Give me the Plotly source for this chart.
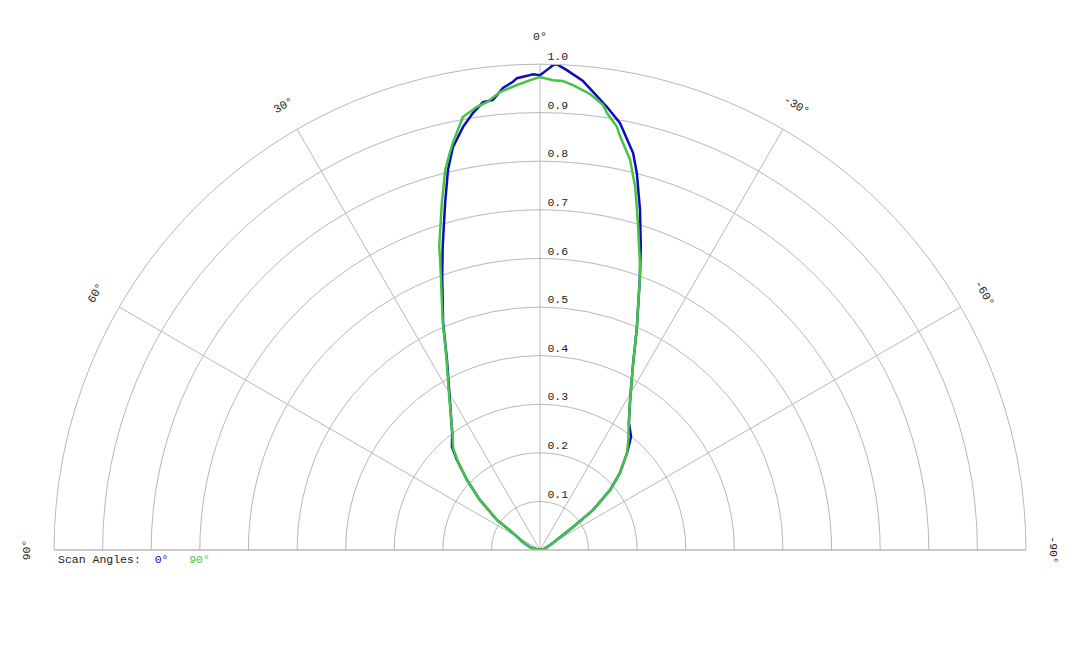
import math
import plotly.graph_objects as go

# ---- data ----
series_names = ["0°", "90°"]
series_colors = ["#0c0cbc", "#44c444"]

theta_0 = [90, 75, 65, 57.8, 55.1, 50.2, 46.2, 42.7, 40.5, 36.9, 31.0, 26.1, 23.1,
           19.7, 17.8, 15.3, 13.6, 12.2, 10.3, 8.7, 7.25, 5.96, 4.58, 3.3, 2.79,
           1.57, 0.84, 0, -0.84, -1.54, -2.0, -3.2, -5.24, -6.6, -8.6, -10.6,
           -13.2, -14.4, -16.4, -18.4, -20.1, -23.5, -26.9, -31.0, -35.0, -38.8,
           -41.9, -46.1, -49.4, -53.0, -55.1, -61.7, -75, -90]
r_0 = [0.0, 0.02, 0.04, 0.066, 0.108, 0.161, 0.208, 0.252, 0.279, 0.301, 0.360,
       0.435, 0.508, 0.597, 0.655, 0.740, 0.805, 0.848, 0.885, 0.910, 0.929,
       0.931, 0.954, 0.965, 0.972, 0.976, 0.979, 0.977, 0.988, 0.998, 1.0,
       0.989, 0.969, 0.949, 0.922, 0.894, 0.839, 0.801, 0.729, 0.657, 0.598,
       0.500, 0.422, 0.360, 0.319, 0.299, 0.268, 0.228, 0.190, 0.137, 0.083,
       0.030, 0.01, 0.0]

theta_90 = [90, 75, 65, 57.8, 55.1, 50.2, 46.2, 42.7, 40.5, 36.9, 31.0, 26.1, 23.1,
            19.0, 18.4, 15.8, 14.0, 12.8, 12.1, 11.3, 10.1, 8.1, 6.75, 5.0, 2.83,
            1.2, 0, -1.6, -2.8, -4.06, -6.26, -8.06, -8.7, -10.3, -11.0, -13.0,
            -14.7, -16.5, -18.1, -19.0, -20.1, -23.5, -26.9, -31.0, -35.0, -38.8,
            -41.9, -46.1, -49.4, -53.0, -55.1, -61.7, -75, -90]
r_90 = [0.0, 0.02, 0.04, 0.066, 0.108, 0.161, 0.208, 0.250, 0.275, 0.300, 0.362,
        0.437, 0.510, 0.631, 0.657, 0.742, 0.806, 0.838, 0.856, 0.875, 0.905,
        0.921, 0.928, 0.946, 0.958, 0.967, 0.973, 0.967, 0.966, 0.959, 0.944,
        0.925, 0.910, 0.885, 0.866, 0.824, 0.772, 0.708, 0.656, 0.631, 0.598,
        0.500, 0.422, 0.360, 0.318, 0.290, 0.268, 0.228, 0.190, 0.137, 0.083,
        0.030, 0.01, 0.0]

angle_ticks = [90, 60, 30, 0, -30, -60, -90]
radial_ticks = [0.1, 0.2, 0.3, 0.4, 0.5, 0.6, 0.7, 0.8, 0.9, 1.0]

FONT = "Courier New, Liberation Mono, monospace"
GRID = "#b8b8b8"
W, H = 1080, 648
OFF = 8  # page body margin
dom_x = [(54 - OFF) / W, (1026 - OFF) / W]
dom_y = [(H - (550 - OFF)) / H, (H - (64 - OFF)) / H]
NB = "\u00a0"

fig = go.Figure()
for th, rr, name, col in [(theta_0, r_0, series_names[0], series_colors[0]),
                          (theta_90, r_90, series_names[1], series_colors[1])]:
    fig.add_trace(go.Scatterpolar(theta=th, r=rr, mode="lines", name=name,
                                  line=dict(color=col, width=2.5),
                                  showlegend=False))

fig.update_layout(
    width=W, height=H,
    margin=dict(l=0, r=0, t=0, b=0),
    paper_bgcolor="white",
    font=dict(family=FONT, size=11, color="#222"),
    polar=dict(
        domain=dict(x=dom_x, y=dom_y),
        sector=[0, 180],
        bgcolor="white",
        radialaxis=dict(range=[0, 1], angle=90, tickangle=90,
                        tickmode="array", tickvals=radial_ticks,
                        ticktext=[f"{NB}{v:.1f}<br>{NB}" for v in radial_ticks],
                        showline=False, ticks="", gridcolor=GRID, gridwidth=1,
                        tickfont=dict(family=FONT, size=11.5, color="#222")),
        angularaxis=dict(rotation=90, direction="counterclockwise",
                         tickmode="array", tickvals=angle_ticks,
                         showticklabels=False, ticks="",
                         showline=True, linecolor=GRID, linewidth=1,
                         gridcolor=GRID, gridwidth=1),
    ),
)

# angular tick labels, rotated tangentially
cx = (dom_x[0] + dom_x[1]) / 2
cy = dom_y[0]
rx = (dom_x[1] - dom_x[0]) / 2 * 1.057
ry = (dom_y[1] - dom_y[0]) * 1.057
for a in angle_ticks:
    t = math.radians(a)
    fig.add_annotation(x=cx - rx * math.sin(t), y=cy + ry * math.cos(t),
                       xref="paper", yref="paper", showarrow=False,
                       xanchor="center", yanchor="middle",
                       text=f"{a}°", textangle=-a,
                       font=dict(family=FONT, size=11.5, color="#222"))

legend_txt = "Scan Angles:" + NB * 2 + (NB * 3).join(
    f"<span style='color:{c}'>{n}</span>" for n, c in zip(series_names, series_colors))
fig.add_annotation(x=(56 - OFF) / W, y=1 - (559 - OFF) / H, xref="paper", yref="paper",
                   xanchor="left", yanchor="middle", showarrow=False,
                   text=legend_txt, font=dict(family=FONT, size=11.5, color="#222"))

fig.write_html("out.html")
